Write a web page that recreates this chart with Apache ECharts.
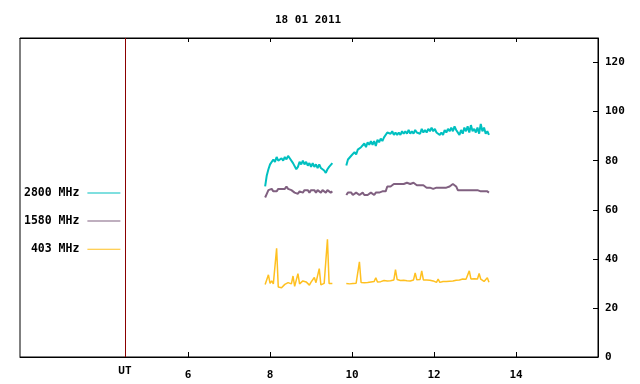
<!DOCTYPE html>
<html>
<head>
<meta charset="utf-8">
<script src="https://cdn.jsdelivr.net/npm/echarts@6/dist/echarts.min.js"></script>
<style>
  html, body { margin: 0; padding: 0; background: #fff; }
  #chart { width: 640px; height: 384px; }
</style>
</head>
<body>
<div id="chart"></div>
<script>
  // sampling of the two observing sessions (UT hours)
  const segStart = [7.88, 9.86]
  const sampleStep = 0.04
  const gapTime = 9.7
  const utMark = 4.46
  const xTicks = [6, 8, 10, 12, 14]
  const yTicks = [0, 20, 40, 60, 80, 100, 120]
  const names = ['2800 MHz', '1580 MHz', '403 MHz']

  // 2800 MHz
  const f2800a = [69.5, 74, 76.5, 78.5, 78, 80.5, 79.5, 81.5, 80, 79.5, 81, 80, 81.5, 80.5, 82, 81, 80.5, 79, 78.5, 76.5,
    77.5, 79.5, 78.5, 80, 78.5, 79.5, 78, 79, 77.5, 79, 77.5, 78.5, 77, 78.5, 77, 77.5, 76, 75, 76.5, 77.5, 78, 79]
  const f2800b = [78, 80.5, 80, 82, 81.5, 83.5, 82.5, 84.5, 84, 85.5, 85, 87, 85.5, 87.5, 86.5, 88, 86.5, 88, 86, 88.5,
    87.5, 89, 88, 89.5, 89, 91.5, 92, 91, 92, 90.5, 91.5, 90.5, 91.5, 90.5, 92, 91, 92, 91, 92.5, 91,
    92, 91, 92.5, 91.5, 92, 91, 93, 91.5, 92.5, 91.5, 93, 92, 93.5, 92, 93, 91.5, 92, 90.5, 91.5, 90.5,
    92.5, 91.5, 93, 92, 93.5, 92, 94, 92.5, 93, 90.5, 92.5, 91, 93.5, 92, 94, 91.5, 94.5, 92, 93, 91.5,
    93.5, 91, 95, 92, 93.5, 91, 92, 90.5]
  // 1580 MHz
  const f1580a = [65, 66.5, 68, 67.5, 68.5, 67.5, 68, 67.5, 68.5, 68, 68.5, 69, 68.5, 69.5, 68.5, 69, 68, 67.5, 67, 67.5,
    66.5, 67.5, 68, 67, 68, 67.5, 68, 67, 68, 67.5, 68, 67, 68, 67.5, 67, 68, 67.5, 67, 68, 67.5, 67, 67.5]
  const f1580b = [66, 67, 66.5, 67, 66, 66.5, 67, 66.5, 66, 66.5, 67, 66, 66.5, 66, 66.5, 67, 66.5, 66, 67, 66.5,
    67, 67, 67.5, 68, 67.5, 69.5, 70, 69.5, 70, 70.5, 70, 70.5, 70, 70.5, 71, 70.5, 70, 71, 70.5, 70.5,
    70, 71, 70.5, 70, 70.5, 70, 69.5, 70, 69.5, 69, 69.5, 69, 69.5, 68.5, 69, 69, 68.5, 69, 68.5, 69,
    68.5, 69, 69, 69.5, 70, 70.5, 70, 69.5, 68, 67.5, 68, 67.5, 68, 67.5, 68, 67.5, 68, 67.5, 68, 67.5,
    68, 67.5, 67.5, 68, 67.5, 67, 67.5, 67]
  // 403 MHz
  const f403a = [29.5, 30, 33.5, 30, 31, 29.8, 30, 44.3, 28.5, 28, 28.2, 29, 29.6, 30.2, 30.3, 30.2, 29.8, 33, 28.8, 28.2,
    34, 29.8, 30.5, 31, 31.2, 30.6, 29.8, 29.3, 30.5, 30.2, 32.4, 30.3, 29.5, 36, 29.4, 29.5, 30, 30, 48, 30, 30.2, 30]
  const f403b = [30, 30.2, 29.8, 30.2, 30, 30.3, 30.1, 30.4, 38.8, 30.4, 30.5, 30.3, 30.6, 30.4, 31.2, 30.6, 30.5, 30.8, 32.3, 30.6,
    30.8, 30.7, 30.9, 31.2, 30.8, 31, 30.9, 31.1, 31, 31.4, 35.6, 31.6, 31, 31.2, 31, 31.3, 31.5, 31.1, 31.3, 31,
    31.2, 31.4, 34.3, 31.5, 31.2, 31.6, 35.1, 31.4, 31.2, 31.4, 31.1, 31.3, 31.1, 31, 30.6, 30.4, 31.8, 30.4, 30.6, 30.8,
    31, 30.8, 31, 30.9, 31.1, 31, 31.4, 31.3, 31.5, 31.4, 31.6, 31.8, 31.5, 31.7, 31.6, 35.1, 31.8, 31.6, 31.9, 32.3,
    31.8, 34, 31.7, 31.2, 30.8, 30.6, 32.3, 30.5]

  const colors = ['#00c0c0', '#806080', '#ffc020']
  const widths = [2, 2, 1.5]
  const font = "'DejaVu Sans Mono', monospace"

  function toPairs(start, vals) {
    return vals.map((v, i) => [+(start + i * sampleStep).toFixed(2), v])
  }
  function session(a, b) {
    return toPairs(segStart[0], a).concat([[gapTime, null]], toPairs(segStart[1], b))
  }

  const chart = echarts.init(document.getElementById('chart'))
  const values = [[f2800a, f2800b], [f1580a, f1580b], [f403a, f403b]]

  const series = names.map((name, k) => ({
    name: name,
    type: 'line',
    symbol: 'none',
    connectNulls: false,
    sampling: null,
    lineStyle: { width: widths[k], color: colors[k] },
    itemStyle: { color: colors[k] },
    data: session(values[k][0], values[k][1])
  }))
  // UT marker line
  series[0].markLine = {
    silent: true,
    symbol: ['none', 'none'],
    lineStyle: { color: '#8b0000', width: 1, type: 'solid' },
    label: { show: true, position: 'start', formatter: 'UT', color: '#000', fontFamily: font, fontWeight: 'bold', fontSize: 11, distance: 9 },
    data: [{ xAxis: utMark }]
  }

  chart.setOption({
    animation: false,
    backgroundColor: '#fff',
    title: {
      text: '18 01 2011',
      left: 270,
      top: 10,
      textStyle: { fontFamily: font, fontSize: 11, fontWeight: 'bold', color: '#000' }
    },
    legend: {
      orient: 'vertical',
      align: 'right',
      left: 24,
      top: 187,
      padding: 0,
      icon: 'path://M0,0 L33,0 L33,1 L0,1 Z',
      symbolKeepAspect: true,
      itemWidth: 33,
      itemHeight: 14,
      itemGap: 16.1,
      selectedMode: false,
      data: names,
      formatter: name => '{n|' + (name.length < 8 ? ' ' + name : name) + '}',
      lineStyle: { width: 1 },
      textStyle: {
        color: '#000',
        rich: { n: { fontFamily: font, fontSize: 11.5, fontWeight: 'bold', color: '#000', padding: [0, 3, 0, 0] } }
      }
    },
    grid: {
      left: 20, right: 42, top: 38, bottom: 27,
      show: true, borderColor: '#000', borderWidth: 1
    },
    xAxis: [{
      type: 'value', min: 1.9, max: 16, position: 'bottom',
      axisLine: { show: true, onZero: false, lineStyle: { color: '#000' } },
      axisTick: { inside: true, length: 5, customValues: xTicks, lineStyle: { color: '#000' } },
      axisLabel: { customValues: xTicks, margin: 13, color: '#000', fontFamily: font, fontSize: 11, fontWeight: 'bold' },
      splitLine: { show: false }
    }, {
      type: 'value', min: 1.9, max: 16, position: 'top',
      axisLine: { show: true, onZero: false, lineStyle: { color: '#000' } },
      axisTick: { inside: true, length: 4, customValues: xTicks, lineStyle: { color: '#000' } },
      axisLabel: { show: false },
      splitLine: { show: false }
    }],
    yAxis: {
      type: 'value', min: 0, max: 130, position: 'right',
      axisLine: { show: true, lineStyle: { color: '#000' } },
      axisTick: { inside: true, length: 5, customValues: yTicks, lineStyle: { color: '#000' } },
      axisLabel: { customValues: yTicks, margin: 7, color: '#000', fontFamily: font, fontSize: 11, fontWeight: 'bold' },
      splitLine: { show: false }
    },
    series: series
  })
</script>
</body>
</html>
